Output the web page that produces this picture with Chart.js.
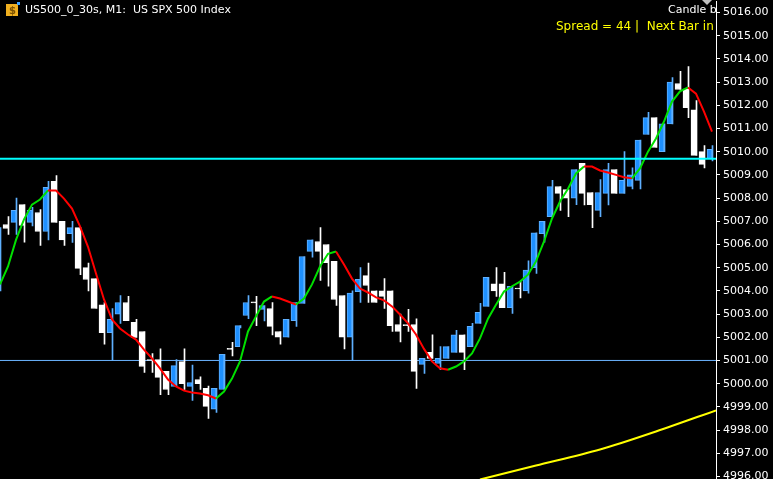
<!DOCTYPE html>
<html>
<head>
<meta charset="utf-8">
<script src="https://cdn.jsdelivr.net/npm/chart.js@4/dist/chart.umd.min.js"></script>
<style>
  html, body { margin: 0; padding: 0; background: #000; overflow: hidden; }
  #wrap { width: 773px; height: 498px; position: absolute; left: 0; top: -8px; }
</style>
</head>
<body>
<div id="wrap"><canvas id="chart"></canvas></div>
<script>
// ===== Dados (US500 M1) =====
const opens  = [5004.0,5006.86,5006.95,5007.72,5006.95,5007.38,5006.56,5008.72,5007.0,5006.47,
                5006.73,5005.0,5004.53,5003.4,5002.2,5003.0,5003.5,5002.64,5002.25,5001.04,
                5001.04,5000.53,4999.88,5000.95,4999.88,5000.18,4999.8,4998.9,4999.75,5001.5,
                5001.6,5002.94,5003.5,5003.2,5003.24,5002.25,5002.0,5002.72,5003.46,5005.7,
                5006.13,5006.0,5005.27,5003.8,5002.0,5003.97,5004.66,5004.0,5004.0,5004.0,
                5002.55,5002.55,5002.55,5000.83,5001.35,5000.87,5001.09,5001.35,5002.1,5001.6,
                5002.6,5003.33,5004.3,5004.3,5003.28,5004.1,5004.0,5005.0,5006.47,5007.2,
                5008.5,5008.37,5008.0,5009.5,5008.24,5007.47,5008.2,5009.23,5008.2,5008.5,
                5008.76,5010.74,5011.47,5010.0,5011.2,5012.94,5012.7,5011.8,5010.0,5009.7];
const closes = [5006.7,5006.69,5007.47,5006.82,5007.47,5006.56,5008.46,5006.95,5006.2,5006.73,
                5004.97,5004.49,5003.24,5002.2,5002.77,5003.5,5002.72,5001.99,5000.74,5001.0,
                5000.27,4999.75,5000.78,5000.0,5000.05,5000.0,4999.02,4999.8,5001.26,5001.48,
                5002.5,5003.5,5003.48,5003.37,5002.47,5002.0,5002.77,5003.5,5005.48,5006.2,
                5005.7,5005.22,5003.63,5002.0,5003.9,5004.5,5004.23,5003.5,5003.76,5002.5,
                5002.25,5002.5,5000.53,5001.09,5001.09,5001.09,5001.6,5002.1,5001.35,5002.47,
                5003.07,5004.58,5004.0,5003.28,5004.2,5004.08,5004.9,5006.5,5007.0,5008.5,
                5008.2,5008.0,5009.23,5008.2,5007.72,5008.24,5009.23,5008.2,5008.76,5009.0,
                5010.5,5011.47,5010.18,5011.2,5013.0,5012.68,5011.9,5009.84,5009.45,5010.1];
const highs  = [5006.73,5007.2,5008.0,5007.72,5007.6,5007.5,5008.72,5008.97,5007.0,5007.0,
                5006.73,5005.2,5004.53,5003.5,5003.24,5003.8,5003.76,5002.77,5002.25,5001.3,
                5001.5,5000.53,5001.04,5001.5,5000.8,5000.3,4999.9,4999.8,5001.26,5001.78,
                5002.5,5003.8,5003.76,5003.37,5003.5,5002.25,5002.77,5003.5,5005.48,5006.2,
                5006.73,5006.0,5005.27,5003.8,5004.0,5005.0,5005.2,5004.0,5004.53,5004.0,
                5003.0,5003.2,5002.8,5001.09,5002.1,5001.6,5001.6,5002.3,5002.1,5002.6,
                5003.46,5004.58,5005.0,5004.8,5004.2,5004.4,5005.3,5006.5,5007.0,5008.76,
                5008.5,5008.37,5009.23,5009.5,5008.24,5008.8,5009.5,5009.23,5010.0,5009.3,
                5010.5,5011.7,5011.47,5011.2,5013.2,5013.46,5013.67,5012.2,5010.26,5010.26];
const lows   = [5004.0,5006.43,5006.43,5006.1,5006.8,5005.96,5006.2,5006.95,5005.96,5006.09,
                5004.7,5004.0,5003.24,5001.7,5001.0,5002.6,5002.72,5001.99,5000.48,5000.48,
                4999.53,4999.53,4999.88,4999.75,4999.28,4999.75,4998.5,4998.76,4999.75,5001.2,
                5002.4,5002.8,5002.5,5002.7,5002.1,5001.7,5002.0,5002.47,5003.46,5005.45,
                5004.45,5004.2,5003.37,5001.5,5001.0,5003.5,5003.5,5003.5,5003.24,5002.25,
                5001.8,5002.25,4999.8,5000.44,5001.09,5000.6,5001.09,5001.35,5000.6,5001.6,
                5002.6,5003.33,5003.76,5003.28,5003.03,5003.7,5003.9,5004.75,5006.1,5007.2,
                5007.47,5007.2,5007.72,5007.7,5006.73,5007.2,5007.7,5008.2,5008.2,5008.4,
                5008.4,5010.74,5010.18,5010.0,5011.2,5012.68,5011.47,5009.84,5009.3,5009.6];
// Média móvel (verde sobe / vermelho desce)
const maValues = [5004.28,5005.05,5006.2,5007.08,5007.72,5007.94,5008.33,5008.33,5007.98,5007.55,
                  5006.78,5005.9,5004.75,5003.63,5002.77,5002.38,5002.12,5001.9,5001.47,5001.09,
                  5000.66,5000.18,4999.88,4999.7,4999.62,4999.58,4999.5,4999.36,4999.66,5000.22,
                  5000.96,5002.25,5002.9,5003.54,5003.76,5003.67,5003.54,5003.41,5003.67,5004.28,
                  5005.05,5005.6,5005.7,5005.14,5004.53,5004.1,5003.93,5003.72,5003.59,5003.33,
                  5002.98,5002.6,5002.12,5001.5,5000.96,5000.66,5000.6,5000.74,5000.96,5001.3,
                  5001.95,5002.8,5003.4,5003.97,5004.2,5004.4,5004.7,5005.27,5006.13,5007.12,
                  5007.85,5008.4,5009.06,5009.36,5009.36,5009.19,5009.1,5009.0,5008.9,5008.85,
                  5009.28,5010.0,5010.57,5011.3,5012.16,5012.6,5012.77,5012.5,5011.73,5010.87];
// Média longa (amarela)
const slowIdx    = [60, 67, 75, 82, 89.5];
const slowValues = [4995.87, 4996.47, 4997.16, 4997.94, 4998.85];
const levelCyan = 5009.7;
const levelBlue = 5001.0;
const yTicks = [4996, 4997, 4998, 4999, 5000, 5001, 5002, 5003, 5004, 5005, 5006,
                5007, 5008, 5009, 5010, 5011, 5012, 5013, 5014, 5015, 5016];

const BULL = '#1e90ff', BULL_EDGE = '#5fb0ff', BEAR = '#ffffff';
const isBull = i => closes[i] >= opens[i];

const wicks = opens.map((o, i) => ({ x: i, y: [lows[i], highs[i]] }));
const bodies = opens.map((o, i) => ({ x: i, y: [o, closes[i]] }));
const ma = maValues.map((v, i) => ({ x: i, y: v }));
const slow = slowIdx.map((x, i) => ({ x: x, y: slowValues[i] }));

// Textos sobrepostos (canvas deslocado 8px para cima)
const OFF = 8;
const overlay = {
  id: 'overlay',
  afterDraw(chart) {
    const ctx = chart.ctx, a = chart.chartArea;
    ctx.save();
    ctx.translate(0, OFF);
    ctx.textBaseline = 'middle';
    // ícone
    ctx.fillStyle = '#f0b020';
    ctx.fillRect(6, 4, 12, 12);
    ctx.fillStyle = '#7a5000';
    ctx.font = 'bold 10px "DejaVu Sans"';
    ctx.fillText('$', 9, 11);
    ctx.fillStyle = '#3aa0ff';
    ctx.fillRect(17, 2, 3, 3);
    ctx.font = '11px "DejaVu Sans"';
    ctx.fillStyle = '#ffffff';
    ctx.fillText('US500_0_30s, M1:  US SPX 500 Index', 25, 10);
    // à direita, cortado pela área do gráfico
    ctx.beginPath();
    ctx.rect(a.left, -OFF, a.right - a.left, 100);
    ctx.clip();
    ctx.fillText('Candle by Sx', 668, 10);
    ctx.fillStyle = '#ffff00';
    ctx.font = '12px "DejaVu Sans"';
    ctx.fillText('Spread = 44 |  Next Bar in =', 556, 27);
    ctx.fillStyle = '#c0c0c0';
    ctx.beginPath();
    ctx.moveTo(702, 0); ctx.lineTo(712, 0); ctx.lineTo(707, 5);
    ctx.fill();
    ctx.restore();
  }
};

new Chart(document.getElementById('chart'), {
  type: 'bar',
  data: {
    datasets: [
      {
        type: 'line', data: slow, borderColor: '#ffff00', borderWidth: 2,
        pointRadius: 0, tension: 0.3, order: 5
      },
      {
        type: 'line', data: [{ x: -1, y: levelBlue }, { x: 91, y: levelBlue }],
        borderColor: '#6cb4ff', borderWidth: 1, pointRadius: 0, order: 4
      },
      {
        data: wicks, barThickness: 1, minBarLength: 1, order: 3,
        backgroundColor: wicks.map((w, i) => isBull(i) ? BULL_EDGE : BEAR)
      },
      {
        data: bodies, barThickness: 5, minBarLength: 1, order: 2,
        backgroundColor: bodies.map((b, i) => isBull(i) ? BULL : BEAR),
        borderColor: bodies.map((b, i) => isBull(i) ? BULL_EDGE : BEAR),
        borderWidth: 1, borderSkipped: false
      },
      {
        type: 'line', data: ma, borderWidth: 2, pointRadius: 0, order: 1,
        segment: {
          borderColor: c => c.p1.parsed.y > c.p0.parsed.y ? '#00e000' : '#ff0000'
        }
      },
      {
        type: 'line', data: [{ x: -1, y: levelCyan }, { x: 91, y: levelCyan }],
        borderColor: '#00ffff', borderWidth: 2, pointRadius: 0, order: 0
      }
    ]
  },
  options: {
    responsive: true,
    maintainAspectRatio: false,
    animation: false,
    layout: { padding: 0 },
    plugins: { legend: { display: false }, tooltip: { enabled: false } },
    scales: {
      x: {
        type: 'linear', min: 0, max: 89.5, display: false, offset: false
      },
      y: {
        position: 'right', min: 4995.83, max: 5016.47,
        afterFit(scale) { scale.width = 57; },
        afterBuildTicks(scale) { scale.ticks = yTicks.map(v => ({ value: v })); },
        border: { color: '#ffffff', width: 1 },
        grid: { drawOnChartArea: false, color: '#ffffff', tickLength: 4 },
        ticks: {
          color: '#ffffff', padding: 3,
          font: { family: 'DejaVu Sans', size: 11 },
          callback: v => v.toFixed(2)
        }
      }
    }
  },
  plugins: [overlay]
});
</script>
</body>
</html>
